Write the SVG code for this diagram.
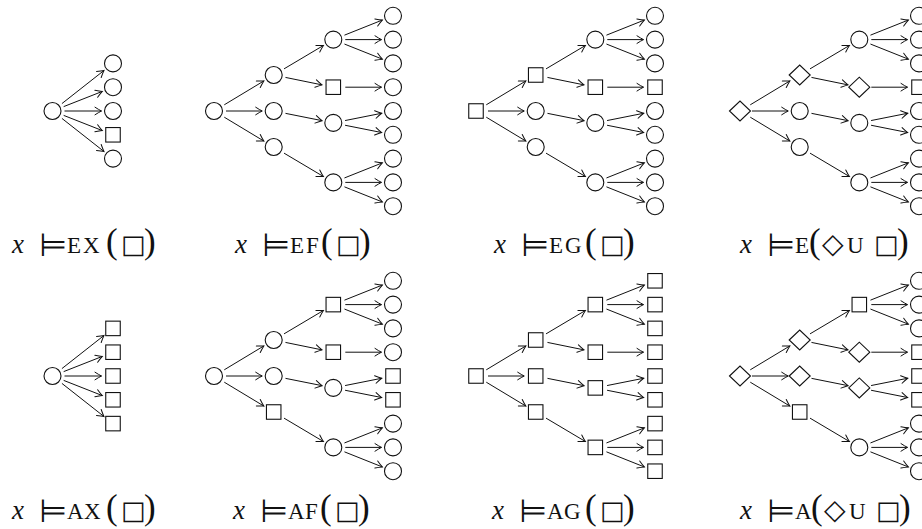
<svg xmlns="http://www.w3.org/2000/svg" xmlns:xlink="http://www.w3.org/1999/xlink" width="922" height="529" viewBox="0 0 922 529">
<style>
.nd{fill:#fff;stroke:#111;stroke-width:1.1}
.cn path{fill:none;stroke:#111;stroke-width:1;marker-end:url(#ah)}
.lab{font-family:"Liberation Serif",serif;font-size:23px;fill:#111}
.mx{font-style:italic;font-size:27px}
.rel{font-family:"DejaVu Sans",sans-serif;font-size:32px}
.par{font-size:35px}
.sym{font-family:"DejaVu Sans",sans-serif;font-size:26px}
.dia{font-family:"DejaVu Sans",sans-serif;font-size:28px}
</style>
<defs>
<circle id="C" r="8.5"/>
<rect id="S" x="-7.25" y="-7.25" width="14.5" height="14.5"/>
<path id="D" d="M-10.5,0 L0,-10 L10.5,0 L0,10Z"/>
<marker id="ah" viewBox="-8 -5 10 10" refX="0" refY="0" markerWidth="10" markerHeight="10" markerUnits="userSpaceOnUse" orient="auto">
<path d="M-6.5,-3.8 Q-2.5,-1.2 0,0 Q-2.5,1.2 -6.5,3.8" fill="none" stroke="#111" stroke-width="1" stroke-linecap="round"/>
</marker>
</defs>
<rect width="922" height="529" fill="#fff"/>

<g id="connectors" class="cn">
<g transform="translate(52.5,111)">
<path d="M9.43,-7.42L51.46,-40.49"/><path d="M11.17,-4.39L49.8,-19.59"/><path d="M12,0L49,0"/><path d="M11.17,4.39L49.8,19.59"/><path d="M9.43,7.42L51.46,40.49"/>
</g>
<g transform="translate(52.5,376)">
<path d="M9.43,-7.42L51.46,-40.49"/><path d="M11.17,-4.39L49.8,-19.59"/><path d="M12,0L49,0"/><path d="M11.17,4.39L49.8,19.59"/><path d="M9.43,7.42L51.46,40.49"/>
</g>
<g transform="translate(214,111)">
<path d="M10.28,-6.2L49.85,-30.06"/><path d="M12,0L48.2,0"/><path d="M10.28,6.2L49.85,30.06"/><path d="M70.02,-42.13L109.41,-65.53"/><path d="M71.46,-33.59L108.03,-26.11"/><path d="M71.47,2.35L108.02,9.65"/><path d="M70.02,42.13L109.41,65.53"/><path d="M130.45,-75.84L168.32,-90.94"/><path d="M131.3,-71.4L167.5,-71.4"/><path d="M130.45,-66.96L168.32,-51.86"/><path d="M131.3,-23.8L167.5,-23.8"/><path d="M131.07,9.55L167.72,2.25"/><path d="M131.07,14.25L167.72,21.55"/><path d="M130.45,66.96L168.32,51.86"/><path d="M131.3,71.4L167.5,71.4"/><path d="M130.45,75.84L168.32,90.94"/>
</g>
<g transform="translate(476,111)">
<path d="M10.28,-6.2L49.85,-30.06"/><path d="M12,0L48.2,0"/><path d="M10.28,6.2L49.85,30.06"/><path d="M70.02,-42.13L109.41,-65.53"/><path d="M71.46,-33.59L108.03,-26.11"/><path d="M71.47,2.35L108.02,9.65"/><path d="M70.02,42.13L109.41,65.53"/><path d="M130.45,-75.84L168.32,-90.94"/><path d="M131.3,-71.4L167.5,-71.4"/><path d="M130.45,-66.96L168.32,-51.86"/><path d="M131.3,-23.8L167.5,-23.8"/><path d="M131.07,9.55L167.72,2.25"/><path d="M131.07,14.25L167.72,21.55"/><path d="M130.45,66.96L168.32,51.86"/><path d="M131.3,71.4L167.5,71.4"/><path d="M130.45,75.84L168.32,90.94"/>
</g>
<g transform="translate(740,111)">
<path d="M10.28,-6.2L49.85,-30.06"/><path d="M12,0L48.2,0"/><path d="M10.28,6.2L49.85,30.06"/><path d="M70.02,-42.13L109.41,-65.53"/><path d="M71.46,-33.59L108.03,-26.11"/><path d="M71.47,2.35L108.02,9.65"/><path d="M70.02,42.13L109.41,65.53"/><path d="M130.45,-75.84L168.32,-90.94"/><path d="M131.3,-71.4L167.5,-71.4"/><path d="M130.45,-66.96L168.32,-51.86"/><path d="M131.3,-23.8L167.5,-23.8"/><path d="M131.07,9.55L167.72,2.25"/><path d="M131.07,14.25L167.72,21.55"/><path d="M130.45,66.96L168.32,51.86"/><path d="M131.3,71.4L167.5,71.4"/><path d="M130.45,75.84L168.32,90.94"/>
</g>
<g transform="translate(214,376)">
<path d="M10.28,-6.2L49.85,-30.06"/><path d="M12,0L48.2,0"/><path d="M10.28,6.2L49.85,30.06"/><path d="M70.02,-42.13L109.41,-65.53"/><path d="M71.46,-33.59L108.03,-26.11"/><path d="M71.47,2.35L108.02,9.65"/><path d="M70.02,42.13L109.41,65.53"/><path d="M130.45,-75.84L168.32,-90.94"/><path d="M131.3,-71.4L167.5,-71.4"/><path d="M130.45,-66.96L168.32,-51.86"/><path d="M131.3,-23.8L167.5,-23.8"/><path d="M131.07,9.55L167.72,2.25"/><path d="M131.07,14.25L167.72,21.55"/><path d="M130.45,66.96L168.32,51.86"/><path d="M131.3,71.4L167.5,71.4"/><path d="M130.45,75.84L168.32,90.94"/>
</g>
<g transform="translate(476,376)">
<path d="M10.28,-6.2L49.85,-30.06"/><path d="M12,0L48.2,0"/><path d="M10.28,6.2L49.85,30.06"/><path d="M70.02,-42.13L109.41,-65.53"/><path d="M71.46,-33.59L108.03,-26.11"/><path d="M71.47,2.35L108.02,9.65"/><path d="M70.02,42.13L109.41,65.53"/><path d="M130.45,-75.84L168.32,-90.94"/><path d="M131.3,-71.4L167.5,-71.4"/><path d="M130.45,-66.96L168.32,-51.86"/><path d="M131.3,-23.8L167.5,-23.8"/><path d="M131.07,9.55L167.72,2.25"/><path d="M131.07,14.25L167.72,21.55"/><path d="M130.45,66.96L168.32,51.86"/><path d="M131.3,71.4L167.5,71.4"/><path d="M130.45,75.84L168.32,90.94"/>
</g>
<g transform="translate(740,376)">
<path d="M10.28,-6.2L49.85,-30.06"/><path d="M12,0L48.2,0"/><path d="M10.28,6.2L49.85,30.06"/><path d="M70.02,-42.13L109.41,-65.53"/><path d="M71.46,-33.59L108.03,-26.11"/><path d="M71.47,2.35L108.02,9.65"/><path d="M70.02,42.13L109.41,65.53"/><path d="M130.45,-75.84L168.32,-90.94"/><path d="M131.3,-71.4L167.5,-71.4"/><path d="M130.45,-66.96L168.32,-51.86"/><path d="M131.3,-23.8L167.5,-23.8"/><path d="M131.07,9.55L167.72,2.25"/><path d="M131.07,14.25L167.72,21.55"/><path d="M130.45,66.96L168.32,51.86"/><path d="M131.3,71.4L167.5,71.4"/><path d="M130.45,75.84L168.32,90.94"/>
</g>
</g>

<g id="ex" class="nd" transform="translate(52.5,111)">
<g id="ex-0"><use href="#C"/></g>
<g id="ex-1"><use href="#C" x="60.5" y="-47.6"/></g>
<g id="ex-2"><use href="#C" x="60.5" y="-23.8"/></g>
<g id="ex-3"><use href="#C" x="60.5" y="0"/></g>
<g id="ex-4"><use href="#S" x="60.5" y="23.8"/></g>
<g id="ex-5"><use href="#C" x="60.5" y="47.6"/></g>
</g>
<g id="ax" class="nd" transform="translate(52.5,376)">
<g id="ax-0"><use href="#C"/></g>
<g id="ax-1"><use href="#S" x="60.5" y="-47.6"/></g>
<g id="ax-2"><use href="#S" x="60.5" y="-23.8"/></g>
<g id="ax-3"><use href="#S" x="60.5" y="0"/></g>
<g id="ax-4"><use href="#S" x="60.5" y="23.8"/></g>
<g id="ax-5"><use href="#S" x="60.5" y="47.6"/></g>
</g>

<g id="ef" class="nd" transform="translate(214,111)">
<g id="ef-0"><use href="#C"/></g>
<g id="ef-1"><use href="#C" x="59.7" y="-36"/></g>
<g id="ef-2"><use href="#C" x="59.7" y="0"/></g>
<g id="ef-3"><use href="#C" x="59.7" y="36"/></g>
<g id="ef-4"><use href="#C" x="119.3" y="-71.4"/></g>
<g id="ef-5"><use href="#S" x="119.3" y="-23.8"/></g>
<g id="ef-6"><use href="#C" x="119.3" y="11.9"/></g>
<g id="ef-7"><use href="#C" x="119.3" y="71.4"/></g>
<g id="ef-8"><use href="#C" x="179" y="-95.2"/></g>
<g id="ef-9"><use href="#C" x="179" y="-71.4"/></g>
<g id="ef-10"><use href="#C" x="179" y="-47.6"/></g>
<g id="ef-11"><use href="#C" x="179" y="-23.8"/></g>
<g id="ef-12"><use href="#C" x="179" y="0"/></g>
<g id="ef-13"><use href="#C" x="179" y="23.8"/></g>
<g id="ef-14"><use href="#C" x="179" y="47.6"/></g>
<g id="ef-15"><use href="#C" x="179" y="71.4"/></g>
<g id="ef-16"><use href="#C" x="179" y="95.2"/></g>
</g>

<g id="eg" class="nd" transform="translate(476,111)">
<g id="eg-0"><use href="#S"/></g>
<g id="eg-1"><use href="#S" x="59.7" y="-36"/></g>
<g id="eg-2"><use href="#C" x="59.7" y="0"/></g>
<g id="eg-3"><use href="#C" x="59.7" y="36"/></g>
<g id="eg-4"><use href="#C" x="119.3" y="-71.4"/></g>
<g id="eg-5"><use href="#S" x="119.3" y="-23.8"/></g>
<g id="eg-6"><use href="#C" x="119.3" y="11.9"/></g>
<g id="eg-7"><use href="#C" x="119.3" y="71.4"/></g>
<g id="eg-8"><use href="#C" x="179" y="-95.2"/></g>
<g id="eg-9"><use href="#C" x="179" y="-71.4"/></g>
<g id="eg-10"><use href="#C" x="179" y="-47.6"/></g>
<g id="eg-11"><use href="#S" x="179" y="-23.8"/></g>
<g id="eg-12"><use href="#C" x="179" y="0"/></g>
<g id="eg-13"><use href="#C" x="179" y="23.8"/></g>
<g id="eg-14"><use href="#C" x="179" y="47.6"/></g>
<g id="eg-15"><use href="#C" x="179" y="71.4"/></g>
<g id="eg-16"><use href="#C" x="179" y="95.2"/></g>
</g>

<g id="eu" class="nd" transform="translate(740,111)">
<g id="eu-0"><use href="#D"/></g>
<g id="eu-1"><use href="#D" x="59.7" y="-36"/></g>
<g id="eu-2"><use href="#C" x="59.7" y="0"/></g>
<g id="eu-3"><use href="#C" x="59.7" y="36"/></g>
<g id="eu-4"><use href="#C" x="119.3" y="-71.4"/></g>
<g id="eu-5"><use href="#D" x="119.3" y="-23.8"/></g>
<g id="eu-6"><use href="#C" x="119.3" y="11.9"/></g>
<g id="eu-7"><use href="#C" x="119.3" y="71.4"/></g>
<g id="eu-8"><use href="#C" x="179" y="-95.2"/></g>
<g id="eu-9"><use href="#C" x="179" y="-71.4"/></g>
<g id="eu-10"><use href="#C" x="179" y="-47.6"/></g>
<g id="eu-11"><use href="#S" x="179" y="-23.8"/></g>
<g id="eu-12"><use href="#C" x="179" y="0"/></g>
<g id="eu-13"><use href="#C" x="179" y="23.8"/></g>
<g id="eu-14"><use href="#C" x="179" y="47.6"/></g>
<g id="eu-15"><use href="#C" x="179" y="71.4"/></g>
<g id="eu-16"><use href="#C" x="179" y="95.2"/></g>
</g>

<g id="af" class="nd" transform="translate(214,376)">
<g id="af-0"><use href="#C"/></g>
<g id="af-1"><use href="#C" x="59.7" y="-36"/></g>
<g id="af-2"><use href="#C" x="59.7" y="0"/></g>
<g id="af-3"><use href="#S" x="59.7" y="36"/></g>
<g id="af-4"><use href="#S" x="119.3" y="-71.4"/></g>
<g id="af-5"><use href="#S" x="119.3" y="-23.8"/></g>
<g id="af-6"><use href="#C" x="119.3" y="11.9"/></g>
<g id="af-7"><use href="#C" x="119.3" y="71.4"/></g>
<g id="af-8"><use href="#C" x="179" y="-95.2"/></g>
<g id="af-9"><use href="#C" x="179" y="-71.4"/></g>
<g id="af-10"><use href="#C" x="179" y="-47.6"/></g>
<g id="af-11"><use href="#C" x="179" y="-23.8"/></g>
<g id="af-12"><use href="#S" x="179" y="0"/></g>
<g id="af-13"><use href="#S" x="179" y="23.8"/></g>
<g id="af-14"><use href="#C" x="179" y="47.6"/></g>
<g id="af-15"><use href="#C" x="179" y="71.4"/></g>
<g id="af-16"><use href="#C" x="179" y="95.2"/></g>
</g>

<g id="ag" class="nd" transform="translate(476,376)">
<g id="ag-0"><use href="#S"/></g>
<g id="ag-1"><use href="#S" x="59.7" y="-36"/></g>
<g id="ag-2"><use href="#S" x="59.7" y="0"/></g>
<g id="ag-3"><use href="#S" x="59.7" y="36"/></g>
<g id="ag-4"><use href="#S" x="119.3" y="-71.4"/></g>
<g id="ag-5"><use href="#S" x="119.3" y="-23.8"/></g>
<g id="ag-6"><use href="#S" x="119.3" y="11.9"/></g>
<g id="ag-7"><use href="#S" x="119.3" y="71.4"/></g>
<g id="ag-8"><use href="#S" x="179" y="-95.2"/></g>
<g id="ag-9"><use href="#S" x="179" y="-71.4"/></g>
<g id="ag-10"><use href="#S" x="179" y="-47.6"/></g>
<g id="ag-11"><use href="#S" x="179" y="-23.8"/></g>
<g id="ag-12"><use href="#S" x="179" y="0"/></g>
<g id="ag-13"><use href="#S" x="179" y="23.8"/></g>
<g id="ag-14"><use href="#S" x="179" y="47.6"/></g>
<g id="ag-15"><use href="#S" x="179" y="71.4"/></g>
<g id="ag-16"><use href="#S" x="179" y="95.2"/></g>
</g>

<g id="au" class="nd" transform="translate(740,376)">
<g id="au-0"><use href="#D"/></g>
<g id="au-1"><use href="#D" x="59.7" y="-36"/></g>
<g id="au-2"><use href="#D" x="59.7" y="0"/></g>
<g id="au-3"><use href="#S" x="59.7" y="36"/></g>
<g id="au-4"><use href="#S" x="119.3" y="-71.4"/></g>
<g id="au-5"><use href="#D" x="119.3" y="-23.8"/></g>
<g id="au-6"><use href="#D" x="119.3" y="11.9"/></g>
<g id="au-7"><use href="#C" x="119.3" y="71.4"/></g>
<g id="au-8"><use href="#C" x="179" y="-95.2"/></g>
<g id="au-9"><use href="#C" x="179" y="-71.4"/></g>
<g id="au-10"><use href="#C" x="179" y="-47.6"/></g>
<g id="au-11"><use href="#S" x="179" y="-23.8"/></g>
<g id="au-12"><use href="#S" x="179" y="0"/></g>
<g id="au-13"><use href="#S" x="179" y="23.8"/></g>
<g id="au-14"><use href="#C" x="179" y="47.6"/></g>
<g id="au-15"><use href="#C" x="179" y="71.4"/></g>
<g id="au-16"><use href="#C" x="179" y="95.2"/></g>
</g>

<g id="labels">
<text class="lab" y="253"><tspan class="mx" x="12">x</tspan><tspan class="rel" x="39" y="256">⊨</tspan><tspan x="67" y="253">E</tspan><tspan x="83">X</tspan><tspan class="par" x="106">(</tspan><tspan class="sym" x="121" y="253">□</tspan><tspan class="par" x="144">)</tspan></text>
<text class="lab" y="253"><tspan class="mx" x="235">x</tspan><tspan class="rel" x="262" y="256">⊨</tspan><tspan x="290" y="253">E</tspan><tspan x="306">F</tspan><tspan class="par" x="321">(</tspan><tspan class="sym" x="336" y="253">□</tspan><tspan class="par" x="359">)</tspan></text>
<text class="lab" y="253"><tspan class="mx" x="494">x</tspan><tspan class="rel" x="521" y="256">⊨</tspan><tspan x="549" y="253">E</tspan><tspan x="565">G</tspan><tspan class="par" x="585">(</tspan><tspan class="sym" x="600" y="253">□</tspan><tspan class="par" x="623">)</tspan></text>
<text class="lab" y="253"><tspan class="mx" x="740">x</tspan><tspan class="rel" x="767" y="256">⊨</tspan><tspan x="795" y="253">E</tspan><tspan class="par" x="809">(</tspan><tspan class="dia" x="822" y="253">◇</tspan><tspan x="847">U</tspan><tspan class="sym" x="874">□</tspan><tspan class="par" x="897">)</tspan></text>
<text class="lab" y="519"><tspan class="mx" x="12">x</tspan><tspan class="rel" x="39" y="522">⊨</tspan><tspan x="67" y="519">A</tspan><tspan x="84">X</tspan><tspan class="par" x="106">(</tspan><tspan class="sym" x="121" y="519">□</tspan><tspan class="par" x="144">)</tspan></text>
<text class="lab" y="519"><tspan class="mx" x="233">x</tspan><tspan class="rel" x="260" y="522">⊨</tspan><tspan x="288" y="519">A</tspan><tspan x="305">F</tspan><tspan class="par" x="320">(</tspan><tspan class="sym" x="335" y="519">□</tspan><tspan class="par" x="358">)</tspan></text>
<text class="lab" y="519"><tspan class="mx" x="492">x</tspan><tspan class="rel" x="519" y="522">⊨</tspan><tspan x="547" y="519">A</tspan><tspan x="564">G</tspan><tspan class="par" x="585">(</tspan><tspan class="sym" x="600" y="519">□</tspan><tspan class="par" x="623">)</tspan></text>
<text class="lab" y="519"><tspan class="mx" x="740">x</tspan><tspan class="rel" x="767" y="522">⊨</tspan><tspan x="795" y="519">A</tspan><tspan class="par" x="811">(</tspan><tspan class="dia" x="824" y="519">◇</tspan><tspan x="849">U</tspan><tspan class="sym" x="876">□</tspan><tspan class="par" x="899">)</tspan></text>
</g>
</svg>
